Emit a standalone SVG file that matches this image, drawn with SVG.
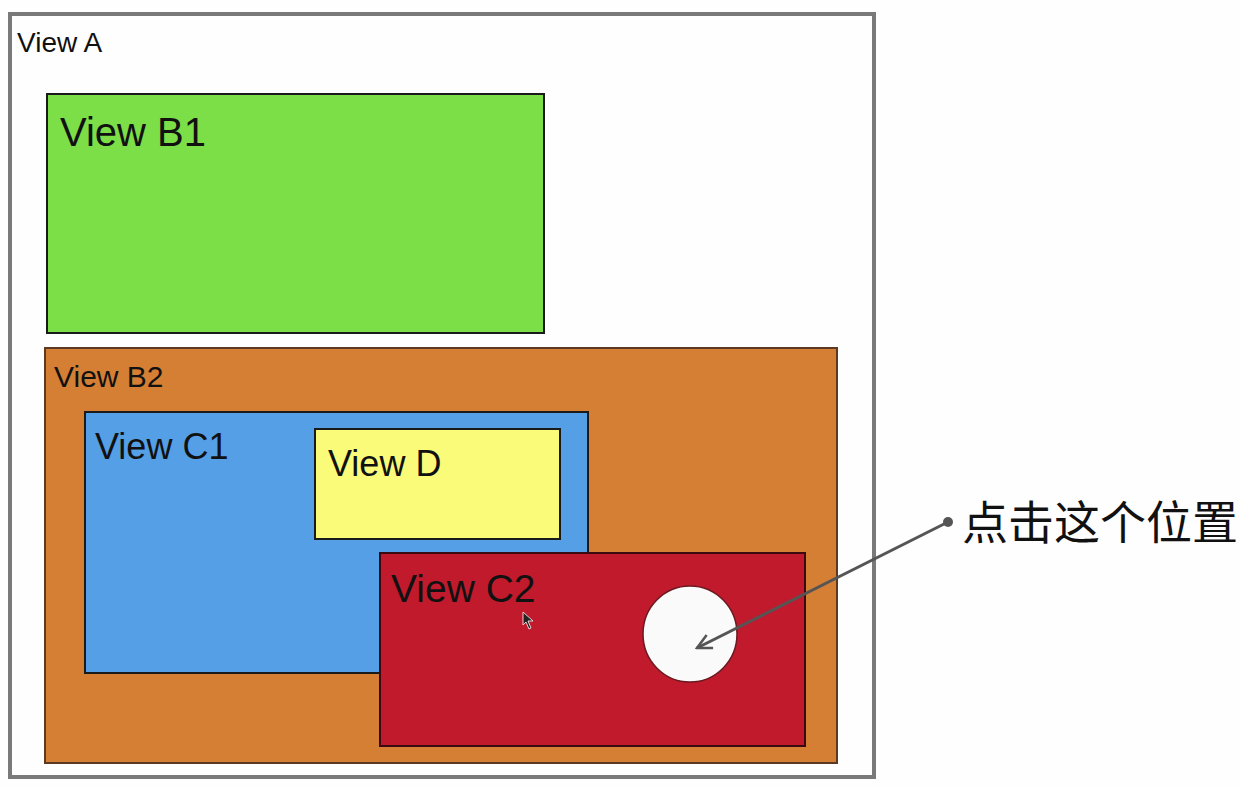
<svg xmlns="http://www.w3.org/2000/svg" width="1240" height="786" viewBox="0 0 1240 786">
<style>
.box{stroke:#1a1a1a;stroke-width:2}
.lbl{font-family:"Liberation Sans",Arial,sans-serif;fill:#111}
.cn{font-family:"Noto Sans CJK SC","Noto Sans",sans-serif;fill:#111}
</style>
<defs>
<marker id="ah" viewBox="0 0 10 10" refX="9" refY="5" markerWidth="18" markerHeight="18" orient="auto" markerUnits="userSpaceOnUse">
<path d="M1,1 L9,5 L1,9" fill="none" stroke="#555" stroke-width="1.4"/>
</marker>
</defs>
<rect width="1240" height="786" fill="#fefefe"/>
<g id="viewA">
<rect x="10" y="14" width="864" height="763" fill="#fefefe" stroke="#7a7a7a" stroke-width="4"/>
<text class="lbl" x="17" y="52" font-size="28">View A</text>
</g>
<g id="viewB1">
<rect class="box" x="47" y="94" width="497" height="239" fill="#7ddf47"/>
<text class="lbl" x="60" y="146" font-size="40">View B1</text>
</g>
<g id="viewB2">
<rect x="45" y="348" width="792" height="415" fill="#d57f34" stroke="#5a3a20" stroke-width="2"/>
<text class="lbl" x="54" y="387" font-size="30" fill="#2a1a10">View B2</text>
</g>
<g id="viewC1">
<rect class="box" x="85" y="412" width="503" height="261" fill="#559fe6"/>
<text class="lbl" x="95" y="459" font-size="36">View C1</text>
</g>
<g id="viewD">
<rect class="box" x="315" y="429" width="245" height="110" fill="#fafb78"/>
<text class="lbl" x="328" y="476" font-size="36">View D</text>
</g>
<g id="viewC2">
<rect x="380" y="553" width="425" height="193" fill="#c01a2c" stroke="#3a0a10" stroke-width="2"/>
<text class="lbl" x="391" y="602" font-size="39" fill="#2a0508">View C2</text>
<ellipse cx="690" cy="634" rx="47" ry="48" fill="#fafafa" stroke="#6a1a20" stroke-width="1.5"/>
<path d="M523,612 L523,625 L526,622 L529,629 L531,628 L528,621 L533,621 Z" fill="#222" stroke="#fff" stroke-width="0.8"/>
</g>
<g id="connectors">
<circle cx="948" cy="522" r="5" fill="#555"/>
<line x1="948" y1="522" x2="697" y2="648" stroke="#555" stroke-width="3" marker-end="url(#ah)"/>
</g>
<g id="note">
<text class="cn" x="962" y="539" font-size="46">点击这个位置</text>
</g>
</svg>
